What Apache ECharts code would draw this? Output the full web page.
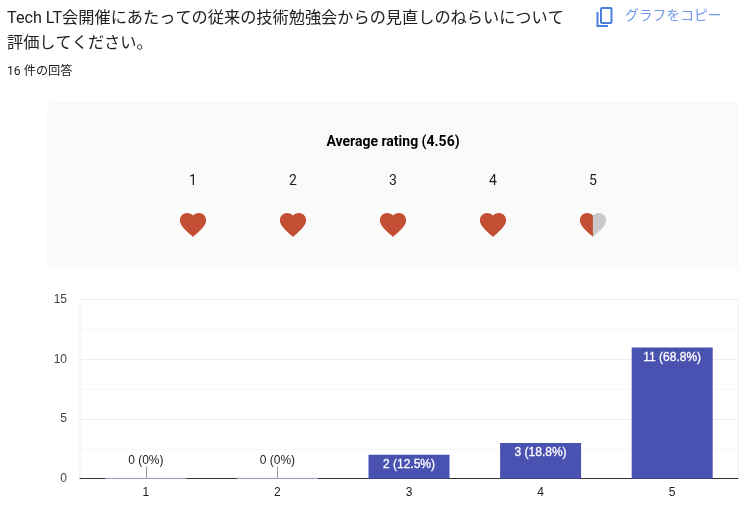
<!DOCTYPE html>
<html><head><meta charset="utf-8">
<style>html,body{margin:0;padding:0;background:#fff}#c{width:747px;height:508px}</style>
<script src="https://cdn.jsdelivr.net/npm/echarts@6/dist/echarts.min.js"></script>
</head><body><div id="c"></div>
<script>
const questionLines = ['Tech LT会開催にあたっての従来の技術勉強会からの見直しのねらいについて', '評価してください。'];
const responseText = '16 件の回答';
const copyText = 'グラフをコピー';
const averageText = 'Average rating (4.56)';
const categories = ['1', '2', '3', '4', '5'];
const counts = [0, 0, 2, 3, 11];
const percents = ['0%', '0%', '12.5%', '18.8%', '68.8%'];
const yTicks = [0, 5, 10, 15];
const ratingLabels = ['1', '2', '3', '4', '5'];
const leftFilled = [1, 1, 1, 1, 1];
const rightFilled = [1, 1, 1, 1, 0];

const HEART_LEFT = 'path://M12 21.35l-1.45-1.32C5.4 15.36 2 12.28 2 8.5 2 5.42 4.42 3 7.5 3c1.74 0 3.41.81 4.5 2.09z';
const HEART_RIGHT = 'path://M12 5.09C13.09 3.81 14.76 3 16.5 3 19.58 3 22 5.42 22 8.5c0 3.78-3.4 6.86-8.55 11.54L12 21.35z';
const RED = '#c34e33', GREY = '#c9c9c9', BAR = '#4a52b1';
const UI = 'Roboto, "Noto Sans CJK JP", sans-serif';
const CHART = '"Liberation Sans", Arial, sans-serif';

function heartSeries(name, flags, symbol, offset) {
  return {
    type: 'scatter', name, xAxisIndex: 1, yAxisIndex: 1, silent: true,
    symbol, symbolSize: [13.2, 24], symbolOffset: [offset, 0],
    data: flags.map((f, i) => ({
      value: [i, 1],
      itemStyle: { color: f ? RED : GREY, opacity: 1 }
    }))
  };
}

const chart = echarts.init(document.getElementById('c'), null, { renderer: 'canvas' });
chart.setOption({
  animation: false,
  backgroundColor: '#fff',
  graphic: [
    { type: 'rect', z: -10, shape: { x: 47, y: 102, width: 692, height: 167, r: 4 }, style: { fill: '#fafafa' } },
    { type: 'text', x: 7, y: 18.5, style: { text: questionLines[0], font: '400 16.2px ' + UI, fill: '#202124', verticalAlign: 'middle' } },
    { type: 'text', x: 7, y: 43.5, style: { text: questionLines[1], font: '400 16.2px ' + UI, fill: '#202124', verticalAlign: 'middle' } },
    { type: 'text', x: 7, y: 72, style: { text: responseText, font: '400 12.2px ' + UI, fill: '#202124', verticalAlign: 'middle' } },
    { type: 'text', x: 625, y: 17, style: { text: copyText, font: '400 13.8px ' + UI, fill: '#6f97ec', verticalAlign: 'middle' } },
    { type: 'rect', shape: { x: 601, y: 8, width: 10.5, height: 15, r: 1 }, style: { fill: 'none', stroke: '#4a7fe0', lineWidth: 2 } },
    { type: 'polyline', shape: { points: [[597.5, 12], [597.5, 26], [608, 26]] }, style: { fill: 'none', stroke: '#4a7fe0', lineWidth: 2 } },
    { type: 'text', x: 393, y: 142.5, style: { text: averageText, font: '700 14px ' + UI, fill: '#000', align: 'center', verticalAlign: 'middle' } }
  ],
  grid: [
    { left: 80, right: 9, top: 299.7, height: 179, show: true, borderColor: '#efefef', borderWidth: 1, backgroundColor: 'transparent' },
    { left: 143, width: 500, top: 205, height: 40 }
  ],
  xAxis: [
    {
      type: 'category', data: categories, gridIndex: 0,
      axisLine: { lineStyle: { color: '#333', width: 1 } }, axisTick: { show: false },
      axisLabel: { color: '#222', fontSize: 12, fontFamily: CHART, margin: 8 }
    },
    {
      type: 'category', data: ratingLabels, gridIndex: 1, position: 'top',
      axisLine: { show: false }, axisTick: { show: false },
      axisLabel: { color: '#202124', fontSize: 14, fontFamily: UI, margin: 17 }
    }
  ],
  yAxis: [
    {
      type: 'value', min: 0, max: 15, interval: yTicks[1] - yTicks[0], gridIndex: 0,
      axisLine: { show: false }, axisTick: { show: false },
      axisLabel: { color: '#444', fontSize: 12, fontFamily: CHART, margin: 13 },
      splitLine: { lineStyle: { color: '#eeeeee', width: 1 } },
      minorTick: { show: false, splitNumber: 2 },
      minorSplitLine: { show: true, lineStyle: { color: '#f6f6f6', width: 1 } }
    },
    { type: 'value', min: 0, max: 2, gridIndex: 1, show: false }
  ],
  series: [
    {
      type: 'bar', name: 'count', barWidth: 81, barMinHeight: 1, silent: true,
      itemStyle: { color: BAR },
      data: counts.map((v, i) => ({
        value: v,
        itemStyle: v === 0 ? { color: '#c5c8e6' } : undefined,
        label: v === 0 ? {
          show: true, position: 'top', distance: 11, color: '#222',
          formatter: `${v} (${percents[i]})`
        } : {
          show: true, position: 'insideTop', distance: 4, color: '#fff',
          textBorderColor: '#fff', textBorderWidth: 0.3,
          formatter: `${v} (${percents[i]})`
        }
      })),
      label: { fontSize: 12, fontFamily: CHART }
    },
    {
      type: 'custom', name: 'leader', silent: true, z: 5,
      data: counts.map((v, i) => [i, v]).filter(d => d[1] === 0),
      encode: { x: 0, y: 1 },
      renderItem: (params, api) => {
        const p = api.coord([api.value(0), api.value(1)]);
        const x = Math.round(p[0]) + 0.5;
        return { type: 'line', shape: { x1: x, y1: p[1], x2: x, y2: p[1] - 12 }, style: { stroke: '#999', lineWidth: 1 } };
      }
    },
    heartSeries('heart-left', leftFilled, HEART_LEFT, -6.5),
    heartSeries('heart-right', rightFilled, HEART_RIGHT, 6.5)
  ]
});
</script></body></html>
